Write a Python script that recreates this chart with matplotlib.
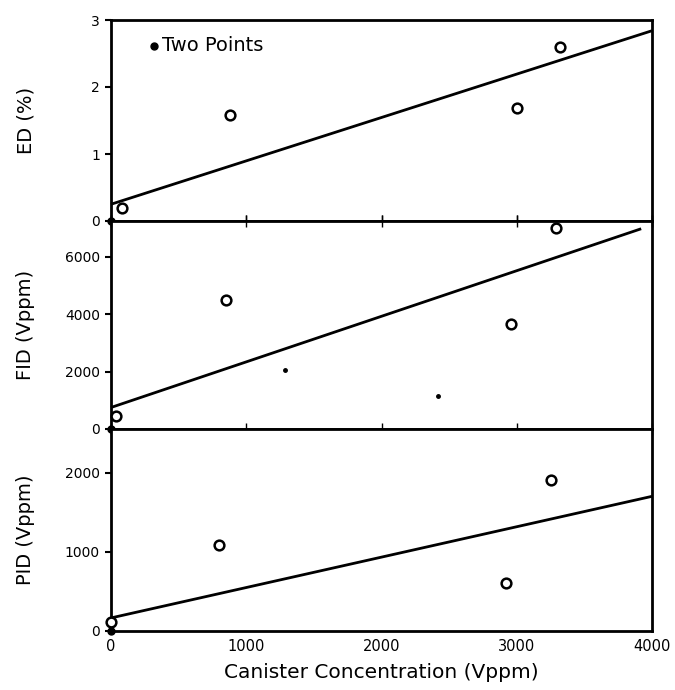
import matplotlib
matplotlib.use("Agg")
import matplotlib.pyplot as plt

# Data
ed_x = [80, 880, 3000, 3320]
ed_y = [0.19, 1.58, 1.69, 2.60]
ed_fit_x = [0, 4000]
ed_fit_y = [0.25, 2.84]

fid_x = [40, 850, 2960, 3290]
fid_y = [460, 4490, 3650, 7020]
fid_fit_x = [0, 3920]
fid_fit_y = [750, 6980]
fid_dot_x = [1290, 2420]
fid_dot_y = [2070, 1160]

pid_x = [0, 800, 2920, 3250]
pid_y = [110, 1085, 600, 1910]
pid_fit_x = [0, 4000]
pid_fit_y = [165, 1700]

# "two points" dots at origins
two_x = [0]
two_y = [0]

x_ticks = [0, 1000, 2000, 3000, 4000]
ed_ticks = [0, 1, 2, 3]
fid_ticks = [0, 2000, 4000, 6000]
pid_ticks = [0, 1000, 2000]

fig = plt.figure(figsize=(6.75, 6.9), dpi=100)
L, R = 111/675, 652/675
tops = [20, 221, 429, 631]
axes = []
for i in range(3):
    t = 1 - tops[i]/690
    b = 1 - tops[i+1]/690
    ax = fig.add_axes([L, b, R-L, t-b])
    axes.append(ax)

panels = [
    (axes[0], ed_x, ed_y, ed_fit_x, ed_fit_y, (0, 3), ed_ticks, "ED (%)"),
    (axes[1], fid_x, fid_y, fid_fit_x, fid_fit_y, (0, 7250), fid_ticks, "FID (Vppm)"),
    (axes[2], pid_x, pid_y, pid_fit_x, pid_fit_y, (0, 2550), pid_ticks, "PID (Vppm)"),
]

for ax, xs, ys, fx, fy, ylim, yt, lab in panels:
    ax.plot(fx, fy, color="black", lw=2, solid_capstyle="butt", clip_on=False)
    ax.plot(xs, ys, linestyle="none", marker="o", mfc="white", mec="black",
            mew=1.8, ms=7, clip_on=False, zorder=5)
    ax.plot(two_x, two_y, linestyle="none", marker="o", color="black", ms=5,
            clip_on=False, zorder=6)
    ax.set_xlim(0, 4000)
    ax.set_ylim(*ylim)
    ax.set_yticks(yt)
    ax.set_xticks(x_ticks)
    for s in ax.spines.values():
        s.set_linewidth(2)
    ax.tick_params(axis="y", direction="out", length=4, width=1.5, labelsize=10, pad=4)
    ax.tick_params(axis="x", direction="inout", length=8, width=1.0, labelsize=10.5)
    ax.set_ylabel(lab, fontsize=14)
    ax.yaxis.set_label_coords(-0.14, 0.5)

axes[0].tick_params(axis="x", top=False, bottom=True)
axes[1].tick_params(axis="x", top=True, bottom=True)
axes[2].tick_params(axis="x", top=True, bottom=True, length=0, pad=6)

axes[1].plot(fid_dot_x, fid_dot_y, linestyle="none", marker="o", color="black", ms=2.5)

for ax in axes[:2]:
    ax.tick_params(axis="x", labelbottom=False)
axes[2].set_xlabel("Canister Concentration (Vppm)", fontsize=14.5, labelpad=6)

axes[0].plot([0.08], [0.87], marker="o", color="black", ms=5, transform=axes[0].transAxes)
axes[0].text(0.095, 0.875, "Two Points", transform=axes[0].transAxes,
             fontsize=14, ha="left", va="center")

fig.savefig("out.png", dpi=100)
